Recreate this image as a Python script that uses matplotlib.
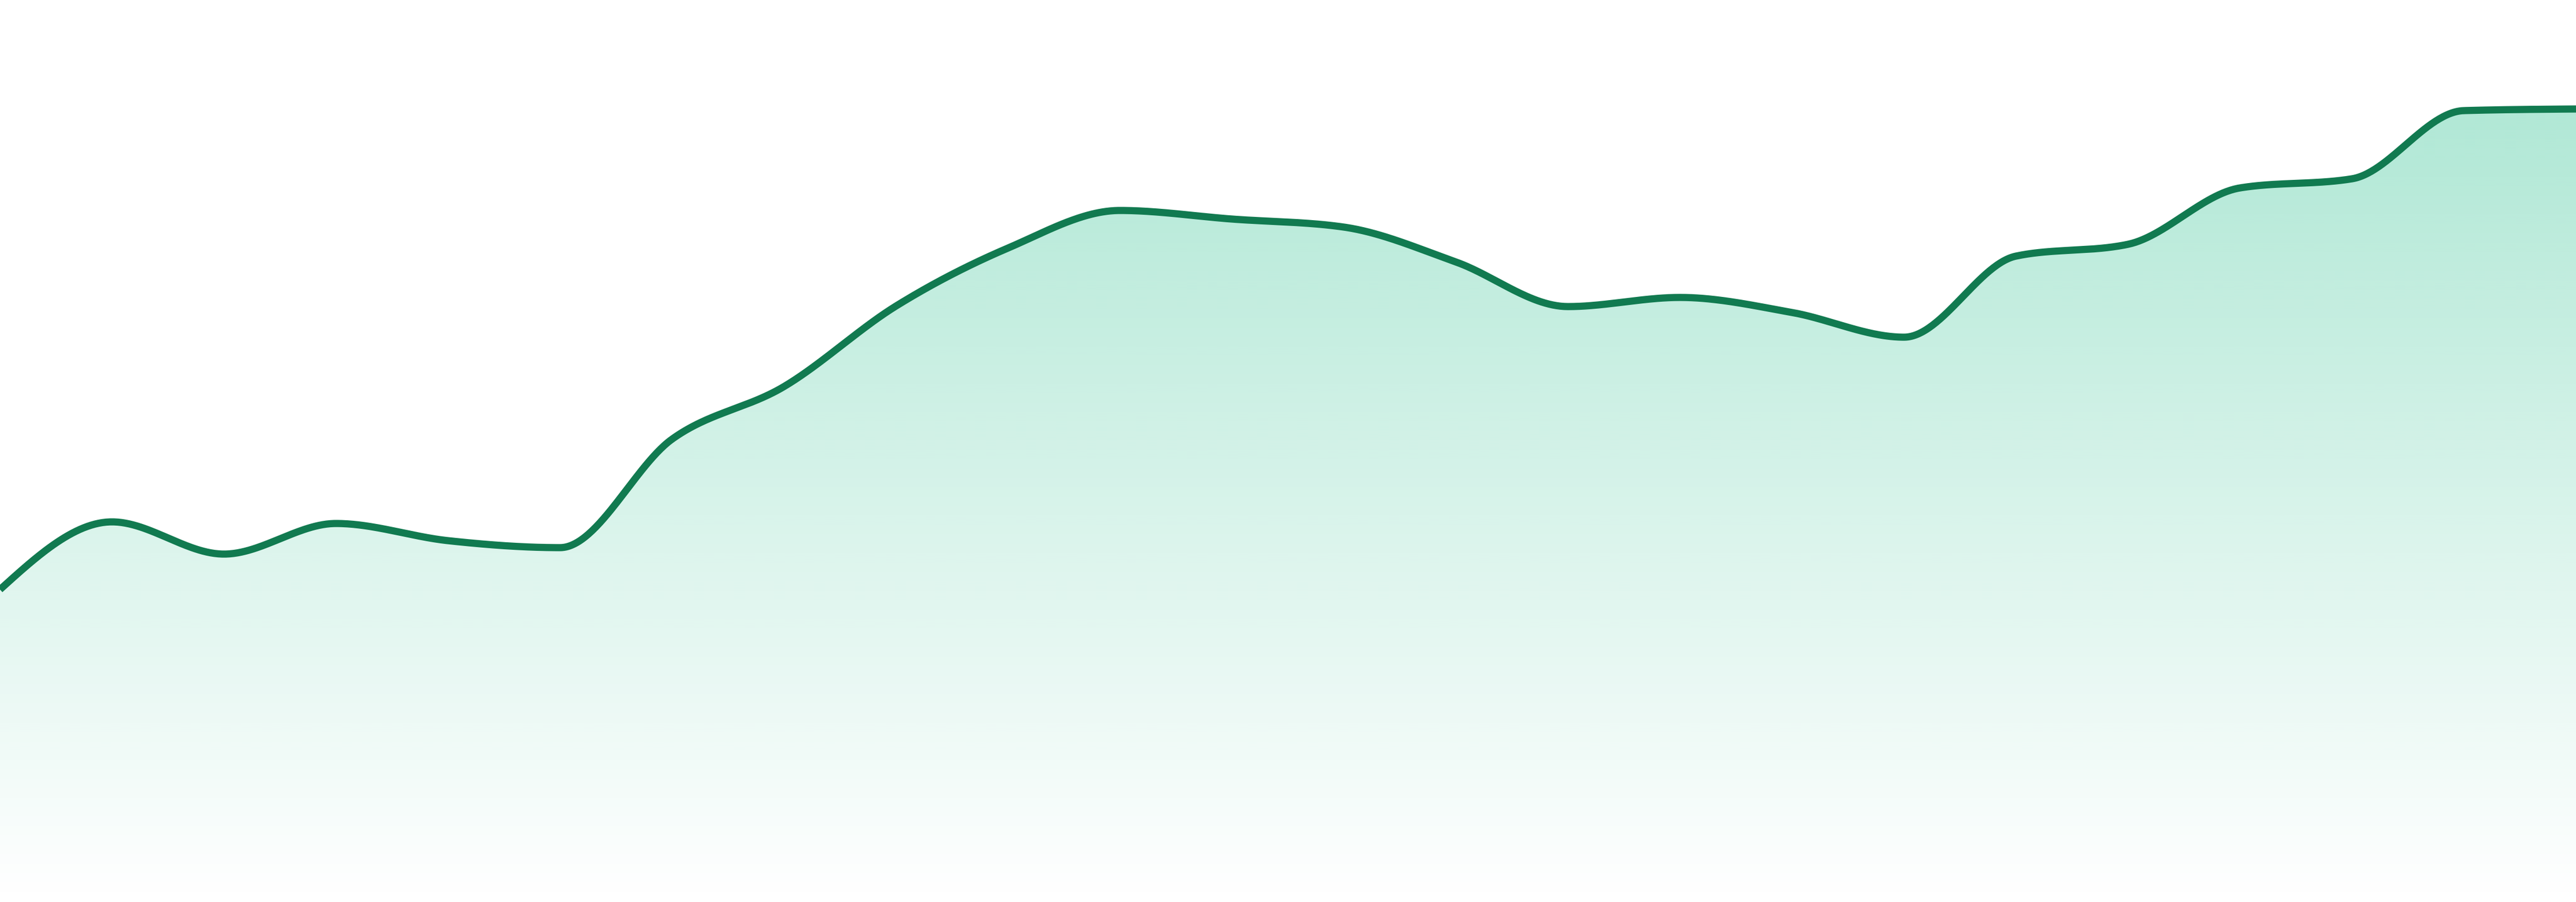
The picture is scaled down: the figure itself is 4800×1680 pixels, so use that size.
import numpy as np
import matplotlib
matplotlib.use("Agg")
import matplotlib.pyplot as plt
from matplotlib.colors import to_rgb

# 24 evenly spaced samples
labels = [f"P{i:02d}" for i in range(24)]
values = [58.2, 70.8, 64.8, 70.5, 67.3, 66.0, 86.2, 96.0, 111.0, 121.8,
          128.8, 127.2, 125.7, 119.2, 110.9, 112.6, 109.8, 105.2, 120.3,
          122.5, 133.0, 134.7, 147.4, 147.7]

LINE = "#117a50"
FILL = "#10b981"
Y_MAX = 168.0


def monotone_x(xs, ys, n=60):
    """Monotone cubic (same rule as d3.curveMonotoneX)."""
    xs = np.asarray(xs, float)
    ys = np.asarray(ys, float)
    h = np.diff(xs)
    s = np.diff(ys) / h
    m = len(xs)
    t = np.zeros(m)
    for i in range(1, m - 1):
        h0, h1, s0, s1 = h[i - 1], h[i], s[i - 1], s[i]
        p = (s0 * h1 + s1 * h0) / (h0 + h1)
        t[i] = (np.sign(s0) + np.sign(s1)) * min(abs(s0), abs(s1), 0.5 * abs(p))
    t[0] = (3 * s[0] - t[1]) / 2
    t[-1] = (3 * s[-1] - t[-2]) / 2
    u = np.linspace(0, 1, n)
    out_x, out_y = [], []
    for i in range(m - 1):
        dx = h[i]
        x0, x1 = xs[i], xs[i + 1]
        p0 = np.array([x0, ys[i]])
        p1 = np.array([x0 + dx / 3, ys[i] + t[i] * dx / 3])
        p2 = np.array([x1 - dx / 3, ys[i + 1] - t[i + 1] * dx / 3])
        p3 = np.array([x1, ys[i + 1]])
        seg = ((1 - u) ** 3)[:, None] * p0 + (3 * (1 - u) ** 2 * u)[:, None] * p1 \
            + (3 * (1 - u) * u ** 2)[:, None] * p2 + (u ** 3)[:, None] * p3
        if i:
            seg = seg[1:]
        out_x.append(seg[:, 0])
        out_y.append(seg[:, 1])
    return np.concatenate(out_x), np.concatenate(out_y)


fig = plt.figure(figsize=(16, 5.6), dpi=300)
ax = fig.add_axes([0, 0, 1, 1])
ax.set_xlim(0, len(values) - 1)
ax.set_ylim(0, Y_MAX)
ax.axis("off")

x = np.arange(len(values))
cx, cy = monotone_x(x, values)

# gradient fill under the curve
top = max(values)
grad = np.linspace(0, 1, 512)[:, None]          # 0 at bottom, 1 at top
alpha = np.clip(grad * Y_MAX / top, 0, 1) * 0.33
rgba = np.zeros((512, 1, 4))
rgba[..., :3] = to_rgb(FILL)
rgba[..., 3] = alpha
poly = ax.fill_between(cx, cy, 0, color="none", lw=0)
img = ax.imshow(rgba, extent=[0, len(values) - 1, 0, Y_MAX], origin="lower",
                aspect="auto", interpolation="bilinear", zorder=1)
img.set_clip_path(poly.get_paths()[0], transform=ax.transData)

ax.plot(cx, cy, color=LINE, lw=3.2, solid_capstyle="butt", zorder=3)

fig.savefig("out.png", dpi=300, facecolor="white")
